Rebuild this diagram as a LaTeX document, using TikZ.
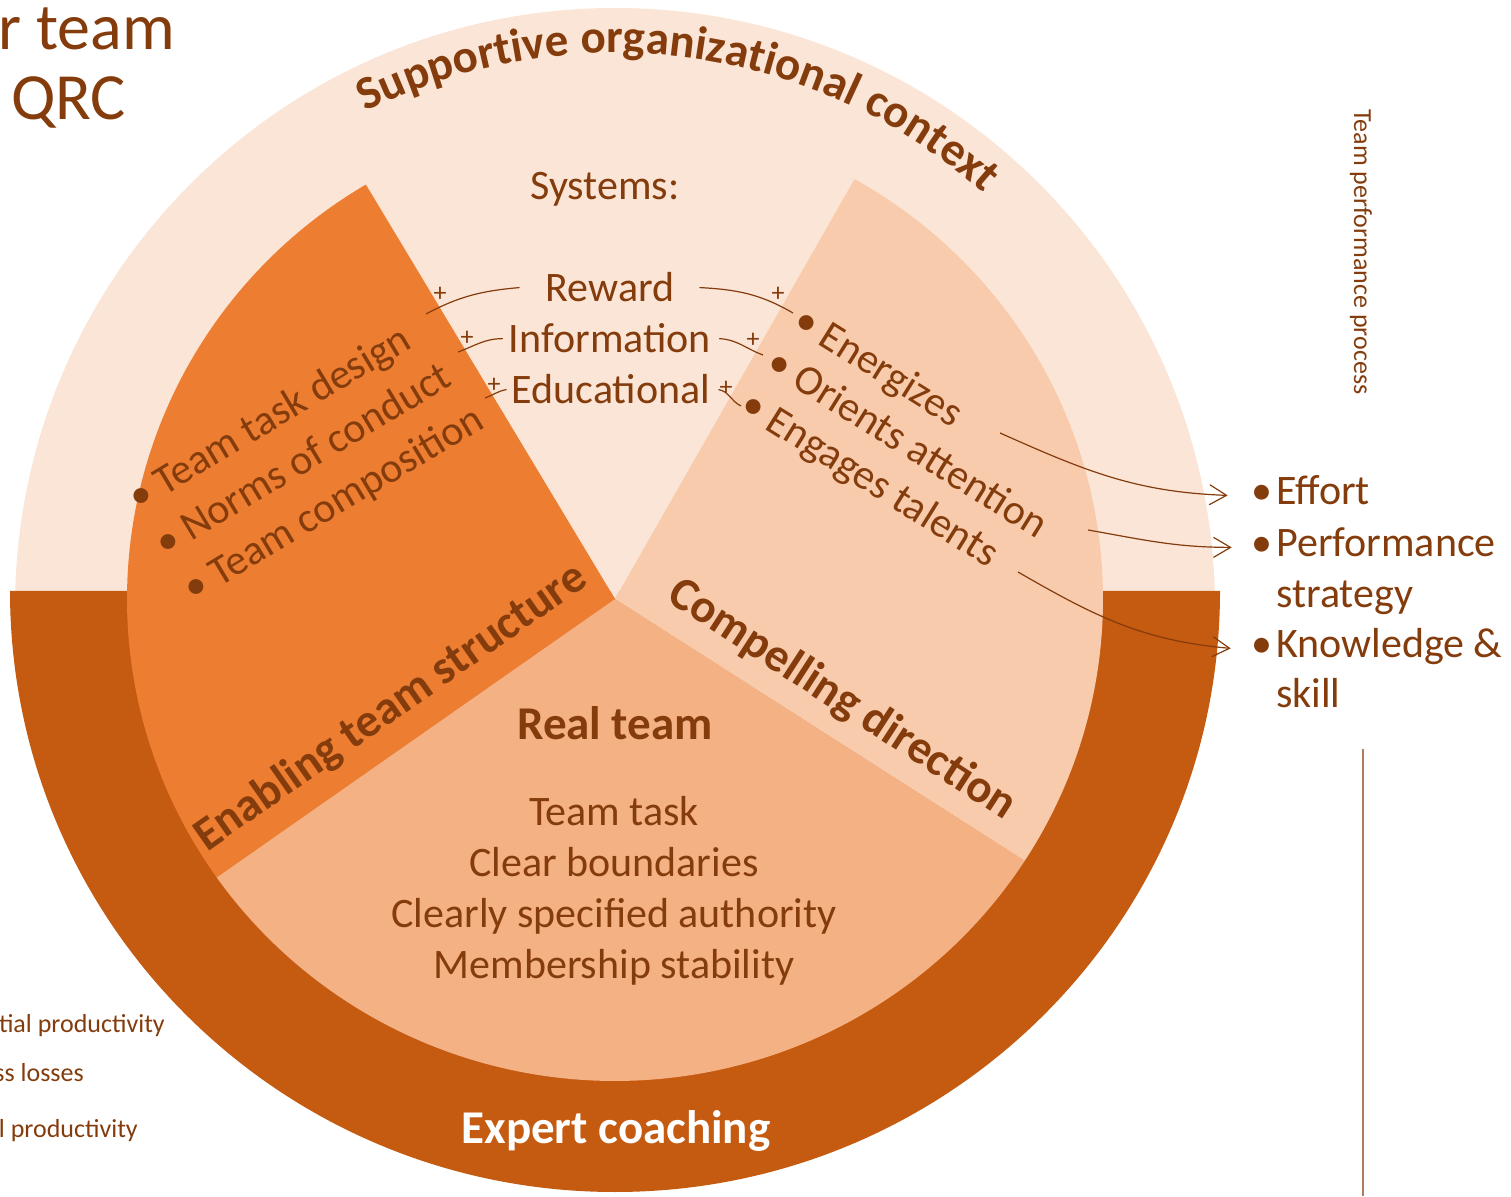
\documentclass[tikz,border=0pt]{standalone}
\usepackage{fontspec}
\setmainfont{Carlito}
\usepackage{xcolor}
\usetikzlibrary{positioning, arrows.meta, decorations.text, calc}

\definecolor{ringlight}{HTML}{FBE5D6}
\definecolor{ringdark}{HTML}{C55A11}
\definecolor{enabling}{HTML}{ED7D31}
\definecolor{compelling}{HTML}{F8CBAD}
\definecolor{realteam}{HTML}{F4B183}
\definecolor{brn}{HTML}{843C0C}
\definecolor{rulecol}{RGB}{176,124,94}

\begin{document}
\begin{tikzpicture}[x=1pt, y=1pt, >={Straight Barb[length=17pt, width=20pt]},
    txt/.style={text=brn, inner sep=0pt, font=\fontsize{42}{50}\selectfont},
    head/.style={text=brn, inner sep=0pt, font=\fontsize{47}{56}\selectfont\bfseries},
    note/.style={text=brn, inner sep=0pt, font=\fontsize{26}{31}\selectfont},
    plus/.style={text=brn, inner sep=0pt, font=\fontsize{26}{26}\selectfont},
    link/.style={brn, line width=1.2pt}]
    \useasboundingbox (0,0) rectangle (1511,1196);
    \clip (0,0) rectangle (1511,1196);

    % Define the centre and radii of the pie
    \def\rx{488}
    \def\ry{482}
    \coordinate (O) at (615,597);
    \coordinate (Q) at (615,588); % centre of the outer ring

    % Draw the outer ring
    \begin{scope}
        \clip (0,605) rectangle (1511,1196);
        \fill[ringlight] (Q) circle(600);
    \end{scope}
    \fill[ringdark] (10,605) arc[start angle=180, end angle=360, x radius=605, y radius=601] -- cycle;

    % Draw the sectors
    \fill[ringlight] (O) -- ++(60.6:{\rx} and {\ry}) arc[start angle=60.6, end angle=120.7, x radius=\rx, y radius=\ry] -- cycle;
    \fill[enabling] (O) -- ++(120.7:{\rx} and {\ry}) arc[start angle=120.7, end angle=215.3, x radius=\rx, y radius=\ry] -- cycle;
    \fill[realteam] (O) -- ++(215.3:{\rx} and {\ry}) arc[start angle=215.3, end angle=327.1, x radius=\rx, y radius=\ry] -- cycle;
    \fill[compelling] (O) -- ++(-32.9:{\rx} and {\ry}) arc[start angle=-32.9, end angle=60.6, x radius=\rx, y radius=\ry] -- cycle;

    % Curved label of the outer ring
    \path[decorate, decoration={text along path, text align=center, text color=brn,
        text={|\fontsize{47}{56}\selectfont\bfseries|Supportive organizational context}}]
        ($(Q)+(142.5:555)$) arc[start angle=142.5, end angle=22.5, radius=555];

    % Title pieces
    \node[text=brn, inner sep=0pt, font=\fontsize{66}{70}\selectfont, anchor=base east] (ttl) at (175,1146) {r team};
    \node[text=brn, inner sep=0pt, font=\fontsize{66}{70}\selectfont, anchor=base west] (qrc) at (11,1076) {QRC};

    % Systems
    \node[txt, anchor=base] (sys) at (605,996) {Systems:};
    \node[txt, anchor=base] (rew) at (610,894) {Reward};
    \node[txt, anchor=base] (inf) at (610,843) {Information};
    \node[txt, anchor=base] (edu) at (611,792) {Educational};

    % Enabling team structure
    \foreach \lab [count=\i from 0] in {Team task design, Norms of conduct, Team composition}
        \node[txt, anchor=base west, rotate=31] (es\i) at ({138+27.5*\i},{684-45.5*\i}) {• \lab};
    \node[head, rotate=35] (ets) at (391,488) {Enabling team structure};

    % Compelling direction
    \foreach \lab [count=\i from 0] in {Energizes, Orients attention, Engages talents}
        \node[txt, anchor=base west, rotate=-32] (cd\i) at ({791-26.5*\i},{869-42.4*\i}) {• \lab};
    \node[head, rotate=-33] (cdl) at (842,496) {Compelling direction};

    % Real team
    \node[head, anchor=base] (rt) at (615,456) {Real team};
    \foreach \lab [count=\i from 0] in {Team task, Clear boundaries, Clearly specified authority, Membership stability}
        \node[txt, anchor=base] (rt\i) at (614,{370-51*\i}) {\lab};

    \node[head, anchor=base, text=white] (ec) at (616,53) {Expert coaching};

    % Links with plus signs
    \coordinate (rl) at (426,882);
    \coordinate (il) at (458,844);
    \coordinate (el) at (485,798);
    \coordinate (rr) at (793,883);
    \coordinate (ir) at (763,841);
    \coordinate (er) at (741,790);
    \draw[link] ([xshift=-26pt]rew.west) to[out=185, in=28] (rl);
    \draw[link] ([xshift=-6pt]inf.west) to[out=180, in=20] (il);
    \draw[link] ([xshift=-5pt]edu.west) to[out=190, in=20] (el);
    \draw[link] ([xshift=25pt]rew.east) to[out=-3, in=150] (rr);
    \draw[link] ([xshift=8pt]inf.east) to[out=-3, in=160] (ir);
    \draw[link] ([xshift=8pt]edu.east) to[out=-10, in=155] (er);
    \foreach \x/\y [count=\i] in {440/902, 467/858, 494/811, 778/902, 753/856, 726/808}
        \node[plus] (p\i) at (\x,\y) {+};

    % Team performance process
    \node[txt, anchor=base west] (eff) at (1276,691) {Effort};
    \node[txt, anchor=base west] (perf) at (1276,639) {Performance};
    \node[txt, anchor=base west] (strat) at (1276,588) {strategy};
    \node[txt, anchor=base west] (know) at (1276,538) {Knowledge \&};
    \node[txt, anchor=base west] (skill) at (1276,488) {skill};
    \foreach \n in {eff, perf, know}
        \node[txt, anchor=base east] (b\n) at ([xshift=-3pt]\n.base west) {•};

    \coordinate (s1) at (1000,763);
    \coordinate (s2) at (1088,666);
    \coordinate (s3) at (1018,624);
    \coordinate[left=24pt of beff] (t1);
    \coordinate[left=20pt of bperf] (t2);
    \coordinate[left=21pt of bknow] (t3);
    \draw[link, ->] (s1) to[out=-24, in=178] (t1);
    \draw[link, ->] (s2) to[out=-10, in=180] (t2);
    \draw[link, ->] (s3) to[out=-30, in=175] (t3);

    \node[note, rotate=-90] (tpp) at (1361,944) {Team performance process};
    \draw[rulecol, line width=2pt] (1363,447) -- (1363,0);

    % Productivity notes
    \node[note, anchor=base east] (pp) at (165,163) {tial productivity};
    \node[note, anchor=base east] (pl) at (84,115) {ss losses};
    \node[note, anchor=base east] (ap) at (138,59) {l productivity};

\end{tikzpicture}
\end{document}
